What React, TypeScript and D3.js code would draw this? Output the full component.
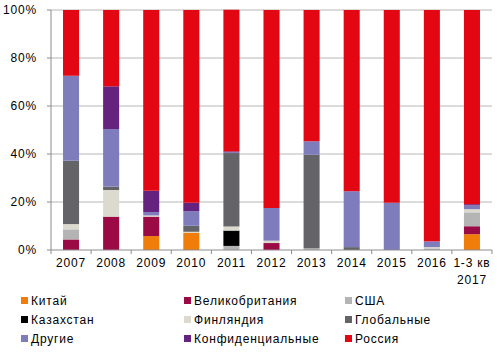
import React, { useEffect, useRef } from 'react';
import * as d3 from 'd3';

const categories = ['2007', '2008', '2009', '2010', '2011', '2012', '2013', '2014', '2015', '2016', '1-3 кв|2017'];

const seriesNames = ['Китай', 'Великобритания', 'США', 'Казахстан', 'Финляндия', 'Глобальные', 'Другие', 'Конфиденциальные', 'Россия'];
const seriesColors = ['#f07d0a', '#9c0a46', '#b4b4b4', '#000000', '#dcd9cf', '#646468', '#7f7cbb', '#65227e', '#e30613'];

// values in %, one array per series, same order as categories
const china = [0, 0, 5.8, 7.2, 0, 0, 0, 0, 0, 0, 6.6];
const uk = [4.4, 13.9, 8.1, 0, 0, 2.9, 0, 0, 0, 0, 3.3];
const usa = [4.2, 0, 0, 0, 1.7, 0, 0.7, 0, 0, 0.7, 5.8];
const kazakhstan = [0, 0, 0, 0, 6.4, 0, 0, 0, 0, 0, 0];
const finland = [2.2, 11.1, 0.5, 0.4, 1.7, 1.0, 0, 0, 0, 0.5, 1.3];
const global = [26.4, 1.4, 0, 2.5, 30.6, 0, 39.0, 1.2, 0, 0, 0];
const others = [35.4, 24.0, 1.4, 6.1, 0.3, 13.6, 5.6, 23.3, 19.7, 2.4, 1.6];
const confidential = [0, 17.8, 8.9, 3.5, 0.4, 0, 0, 0, 0, 0, 0.5];
const russia = [27.4, 31.8, 75.3, 80.3, 59.0, 82.5, 54.7, 75.5, 80.3, 96.4, 80.9];

const yTicks = [0, 20, 40, 60, 80, 100];

const W = 500;
const H = 352;
const M = { top: 10, right: 8, bottom: 102, left: 51 };

const App: React.FC = () => {
    const svgRef = useRef<SVGSVGElement | null>(null);

    useEffect(() => {
        const svg = d3.select(svgRef.current);
        svg.selectAll('*').remove();

        const width = W - M.left - M.right;
        const height = H - M.top - M.bottom;
        const font = 'Arial, "Liberation Sans", sans-serif';

        const all = [china, uk, usa, kazakhstan, finland, global, others, confidential, russia];
        const rows = categories.map((c, i) => {
            const r: Record<string, number | string> = { cat: c };
            seriesNames.forEach((s, k) => { r[s] = all[k][i]; });
            return r;
        });

        const x = d3.scaleBand().domain(categories).range([0, width]).paddingInner(0.6).paddingOuter(0.3);
        const y = d3.scaleLinear().domain([0, 100]).range([height, 0]);
        const step = x.step();

        const g = svg.append('g').attr('transform', `translate(${M.left},${M.top})`);

        // grid
        g.append('g').selectAll('line')
            .data(yTicks.filter(t => t > 0))
            .enter().append('line')
            .attr('x1', 0).attr('x2', width)
            .attr('y1', d => y(d)).attr('y2', d => y(d))
            .attr('stroke', '#b7b7b7').attr('stroke-width', 1);

        const stack = d3.stack<Record<string, number | string>>()
            .keys(seriesNames)
            .value((d, k) => d[k] as number);
        const layers = stack(rows);

        g.append('g').selectAll('g')
            .data(layers)
            .enter().append('g')
            .attr('fill', (_, i) => seriesColors[i])
            .selectAll('rect')
            .data(d => d)
            .enter().append('rect')
            .attr('x', d => x(d.data.cat as string)!)
            .attr('width', x.bandwidth())
            .attr('y', d => y(d[1]))
            .attr('height', d => Math.max(0, y(d[0]) - y(d[1])));

        // y axis
        g.append('line').attr('x1', 0).attr('x2', 0).attr('y1', 0).attr('y2', height)
            .attr('stroke', '#8c8c8c').attr('stroke-width', 1);
        g.append('line').attr('x1', 0).attr('x2', width).attr('y1', height).attr('y2', height)
            .attr('stroke', '#8c8c8c').attr('stroke-width', 1);

        const yt = g.append('g').selectAll('g').data(yTicks).enter().append('g')
            .attr('transform', d => `translate(0,${y(d)})`);
        yt.append('line').attr('x1', -4).attr('x2', 0).attr('stroke', '#8c8c8c');
        yt.append('text')
            .attr('x', -14).attr('dy', '0.35em')
            .attr('text-anchor', 'end')
            .attr('font-family', font).attr('font-size', 12).attr('letter-spacing', 0.8)
            .attr('fill', '#000')
            .text(d => `${d}%`);

        // x ticks at category boundaries
        g.append('g').selectAll('line')
            .data(d3.range(categories.length + 1))
            .enter().append('line')
            .attr('x1', i => i * step).attr('x2', i => i * step)
            .attr('y1', height).attr('y2', height + 4)
            .attr('stroke', '#8c8c8c');

        const xl = g.append('g').selectAll('text').data(categories).enter().append('text')
            .attr('x', d => x(d)! + x.bandwidth() / 2)
            .attr('y', height + 17)
            .attr('text-anchor', 'middle')
            .attr('font-family', font).attr('font-size', 12).attr('letter-spacing', 0.8)
            .attr('fill', '#000');
        xl.each(function (d) {
            const parts = d.split('|');
            const t = d3.select(this);
            parts.forEach((p, i) => {
                t.append('tspan').attr('x', x(d)! + x.bandwidth() / 2).attr('dy', i === 0 ? 0 : 17).text(p);
            });
        });

        // legend
        const colX = [21, 184, 345];
        const rowY = [301, 320, 339];
        const lg = svg.append('g');
        seriesNames.forEach((s, i) => {
            const cx = colX[i % 3];
            const cy = rowY[Math.floor(i / 3)];
            lg.append('rect').attr('x', cx).attr('y', cy - 4).attr('width', 7).attr('height', 7)
                .attr('fill', seriesColors[i]);
            lg.append('text').attr('x', cx + 10).attr('y', cy).attr('dy', '0.35em')
                .attr('font-family', font).attr('font-size', 12).attr('letter-spacing', 0.8)
                .attr('fill', '#000')
                .text(s);
        });
    }, []);

    return (
        <svg ref={svgRef} width={W} height={H}
            style={{ position: 'absolute', left: 0, top: 0, background: '#fff' }} />
    );
};

export default App;
